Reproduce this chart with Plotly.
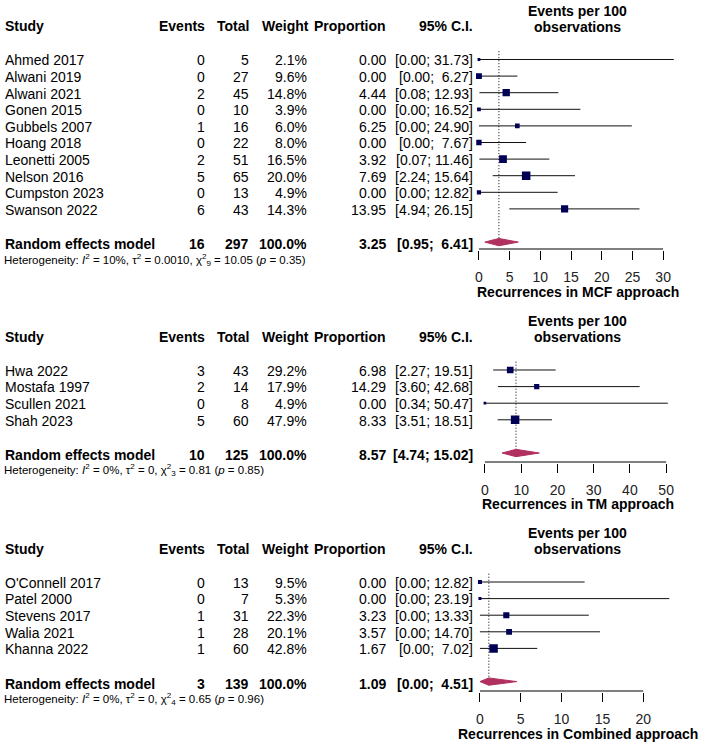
import math
import plotly.graph_objects as go

# ---------------- data ----------------
# Panel 1: MCF approach
mcf_study = ["Ahmed 2017", "Alwani 2019", "Alwani 2021", "Gonen 2015", "Gubbels 2007",
             "Hoang 2018", "Leonetti 2005", "Nelson 2016", "Cumpston 2023", "Swanson 2022"]
mcf_events = [0, 0, 2, 0, 1, 0, 2, 5, 0, 6]
mcf_total = [5, 27, 45, 10, 16, 22, 51, 65, 13, 43]
mcf_weight = [2.1, 9.6, 14.8, 3.9, 6.0, 8.0, 16.5, 20.0, 4.9, 14.3]
mcf_prop = [0.00, 0.00, 4.44, 0.00, 6.25, 0.00, 3.92, 7.69, 0.00, 13.95]
mcf_lower = [0.00, 0.00, 0.08, 0.00, 0.00, 0.00, 0.07, 2.24, 0.00, 4.94]
mcf_upper = [31.73, 6.27, 12.93, 16.52, 24.90, 7.67, 11.46, 15.64, 12.82, 26.15]
mcf_summary = dict(events=16, total=297, est=3.25, lo=0.95, hi=6.41)
mcf_het = dict(I2="10%", tau2="0.0010", df=9, chi2="10.05", p="0.35")
mcf_ticks = [0, 5, 10, 15, 20, 25, 30]

# Panel 2: TM approach
tm_study = ["Hwa 2022", "Mostafa 1997", "Scullen 2021", "Shah 2023"]
tm_events = [3, 2, 0, 5]
tm_total = [43, 14, 8, 60]
tm_weight = [29.2, 17.9, 4.9, 47.9]
tm_prop = [6.98, 14.29, 0.00, 8.33]
tm_lower = [2.27, 3.60, 0.34, 3.51]
tm_upper = [19.51, 42.68, 50.47, 18.51]
tm_summary = dict(events=10, total=125, est=8.57, lo=4.74, hi=15.02)
tm_het = dict(I2="0%", tau2="0", df=3, chi2="0.81", p="0.85")
tm_ticks = [0, 10, 20, 30, 40, 50]

# Panel 3: Combined approach
cb_study = ["O'Connell 2017", "Patel 2000", "Stevens 2017", "Walia 2021", "Khanna 2022"]
cb_events = [0, 0, 1, 1, 1]
cb_total = [13, 7, 31, 28, 60]
cb_weight = [9.5, 5.3, 22.3, 20.1, 42.8]
cb_prop = [0.00, 0.00, 3.23, 3.57, 1.67]
cb_lower = [0.00, 0.00, 0.00, 0.00, 0.00]
cb_upper = [12.82, 23.19, 13.33, 14.70, 7.02]
cb_summary = dict(events=3, total=139, est=1.09, lo=0.00, hi=4.51)
cb_het = dict(I2="0%", tau2="0", df=4, chi2="0.65", p="0.96")
cb_ticks = [0, 5, 10, 15, 20]

headers = ["Study", "Events", "Total", "Weight", "Proportion", "95% C.I."]
forest_title = ["Events per 100", "observations"]
axis_titles = ["Recurrences in MCF approach", "Recurrences in TM approach",
               "Recurrences in Combined approach"]

# ---------------- layout constants ----------------
W, H = 702, 747
S = 16.6  # pixels per row
FONT = "Liberation Sans, Arial, sans-serif"
SQ_COL = "#000055"
DIA_COL = "#b03060"
LINE_COL = "#111111"

panels = [
    dict(study=mcf_study, events=mcf_events, total=mcf_total, weight=mcf_weight,
         prop=mcf_prop, lower=mcf_lower, upper=mcf_upper, summ=mcf_summary,
         het=mcf_het, ticks=mcf_ticks, title=axis_titles[0],
         row0=59.5, axis_px=249, x0=481, ppu=185 / 30, xmin=-0.8, xmax=32.5),
    dict(study=tm_study, events=tm_events, total=tm_total, weight=tm_weight,
         prop=tm_prop, lower=tm_lower, upper=tm_upper, summ=tm_summary,
         het=tm_het, ticks=tm_ticks, title=axis_titles[1],
         row0=370, axis_px=462, x0=487, ppu=182 / 50, xmin=-1.5, xmax=51.5),
    dict(study=cb_study, events=cb_events, total=cb_total, weight=cb_weight,
         prop=cb_prop, lower=cb_lower, upper=cb_upper, summ=cb_summary,
         het=cb_het, ticks=cb_ticks, title=axis_titles[2],
         row0=582, axis_px=691, x0=482, ppu=164 / 20, xmin=-0.6, xmax=23.6),
]

# text column anchors (px)
X_NAME = 4
X_EVENTS = 207
X_TOTAL = 251
X_WEIGHT = 309
X_PROP = 389
X_CI = 476
X_FOREST_C = 580


def fmt_ci(lo, hi):
    hs = f"{hi:.2f}"
    if len(hs) < 5:
        hs = "\u00a0" + hs  # R pads with an extra space
    return f"[{lo:.2f}; {hs}]"


fig = go.Figure()
annotations = []


def add_text(text, x_px, y_px, anchor="left", size=14, bold=False, color="black"):
    if bold:
        text = f"<b>{text}</b>"
    annotations.append(dict(
        text=text, xref="paper", yref="paper", x=x_px / W, y=1 - y_px / H,
        xanchor=anchor, yanchor="middle", showarrow=False,
        font=dict(family=FONT, size=size, color=color), borderpad=0))


layout_axes = {}
for k, P in enumerate(panels):
    n = len(P["study"])
    idx = "" if k == 0 else str(k + 1)
    xa, ya = "x" + idx, "y" + idx
    row0 = P["row0"]

    def rpx(r, row0=row0):
        return row0 + r * S

    axis_row = (P["axis_px"] - row0) / S
    rb, rt = axis_row + 0.06, -3.5
    layout_axes["yaxis" + idx] = dict(
        range=[rb, rt], domain=[1 - rpx(rb) / H, 1 - rpx(rt) / H],
        visible=False, fixedrange=True)
    layout_axes["xaxis" + idx] = dict(
        range=[P["xmin"], P["xmax"]],
        domain=[(P["x0"] + P["xmin"] * P["ppu"]) / W, (P["x0"] + P["xmax"] * P["ppu"]) / W],
        anchor=ya, showgrid=False, zeroline=False, showline=False,
        ticks="outside", ticklen=9, tickwidth=1, tickcolor="black",
        tickvals=P["ticks"], ticktext=[str(t) for t in P["ticks"]],
        tickfont=dict(family=FONT, size=14, color="#222"),
        ticklabelstandoff=5, fixedrange=True)

    rows = list(range(n))
    # CI lines
    cx, cy = [], []
    for i in rows:
        cx += [P["lower"][i], P["upper"][i], None]
        cy += [i, i, None]
    fig.add_trace(go.Scatter(x=cx, y=cy, mode="lines", xaxis=xa, yaxis=ya,
                             line=dict(color=LINE_COL, width=1), hoverinfo="skip"))
    # reference dotted line at summary estimate
    s = P["summ"]
    fig.add_trace(go.Scatter(x=[s["est"], s["est"]], y=[-0.5, n + 1], mode="lines",
                             xaxis=xa, yaxis=ya,
                             line=dict(color="black", width=1, dash="1px,2px"), hoverinfo="skip"))
    # squares
    wmax = max(P["weight"])
    sizes = [max(2.5, 8.5 * math.sqrt(w / wmax)) for w in P["weight"]]
    fig.add_trace(go.Scatter(x=P["prop"], y=rows, mode="markers", xaxis=xa, yaxis=ya,
                             marker=dict(symbol="square", size=sizes, color=SQ_COL,
                                         opacity=1, line=dict(width=0)), hoverinfo="skip"))
    # diamond
    h = 0.22
    fig.add_trace(go.Scatter(
        x=[s["lo"], s["est"], s["hi"], s["est"], s["lo"]],
        y=[n + 1, n + 1 - h, n + 1, n + 1 + h, n + 1],
        mode="lines", fill="toself", fillcolor=DIA_COL, xaxis=xa, yaxis=ya,
        line=dict(color=DIA_COL, width=1), hoverinfo="skip"))
    # axis baseline from first to last tick
    fig.add_trace(go.Scatter(x=[P["ticks"][0], P["ticks"][-1]], y=[axis_row, axis_row],
                             mode="lines", xaxis=xa, yaxis=ya,
                             line=dict(color="black", width=1), hoverinfo="skip"))

    # headers
    hy = rpx(-2.0)
    add_text(headers[0], X_NAME, hy, "left", bold=True)
    add_text(headers[1], X_EVENTS, hy, "right", bold=True)
    add_text(headers[2], X_TOTAL, hy, "right", bold=True)
    add_text(headers[3], X_WEIGHT + 2, hy, "right", bold=True)
    add_text(headers[4], X_PROP, hy, "right", bold=True)
    add_text(headers[5], X_CI, hy, "right", bold=True)
    add_text(forest_title[0], X_FOREST_C, rpx(-2.95), "center", bold=True)
    add_text(forest_title[1], X_FOREST_C, rpx(-1.98), "center", bold=True)

    # study rows
    for i in rows:
        y = rpx(i + 0.05)
        add_text(P["study"][i], X_NAME, y, "left")
        add_text(str(P["events"][i]), X_EVENTS, y, "right")
        add_text(str(P["total"][i]), X_TOTAL, y, "right")
        add_text(f"{P['weight'][i]:.1f}%", X_WEIGHT, y, "right")
        add_text(f"{P['prop'][i]:.2f}", X_PROP, y, "right")
        add_text(fmt_ci(P["lower"][i], P["upper"][i]), X_CI, y, "right")

    # summary row
    y = rpx(n + 1 + 0.12)
    add_text("Random effects model", X_NAME, y, "left", bold=True)
    add_text(str(s["events"]), X_EVENTS, y, "right", bold=True)
    add_text(str(s["total"]), X_TOTAL, y, "right", bold=True)
    add_text("100.0%", X_WEIGHT, y, "right", bold=True)
    add_text(f"{s['est']:.2f}", X_PROP, y, "right", bold=True)
    add_text(fmt_ci(s["lo"], s["hi"]), X_CI, y, "right", bold=True)

    # heterogeneity
    ht = P["het"]
    het_txt = (f"Heterogeneity: <i>I</i><sup>2</sup> = {ht['I2']}, \u03c4<sup>2</sup> = {ht['tau2']}, "
               f"\u03c7<sup>2</sup><sub>{ht['df']}</sub> = {ht['chi2']} (<i>p</i> = {ht['p']})")
    add_text(het_txt, X_NAME - 1, rpx(n + 2 + 0.05), "left", size=11.5)

    # axis title
    add_text(P["title"], X_FOREST_C, P["axis_px"] + 42.5, "center", bold=True)

fig.update_layout(
    width=W, height=H, margin=dict(l=0, r=0, t=0, b=0),
    paper_bgcolor="white", plot_bgcolor="white", showlegend=False,
    annotations=annotations, **layout_axes)

fig.write_html("out.html", config={"displayModeBar": False, "staticPlot": True},
               post_script="document.body.style.margin='0';document.body.style.padding='0';")
